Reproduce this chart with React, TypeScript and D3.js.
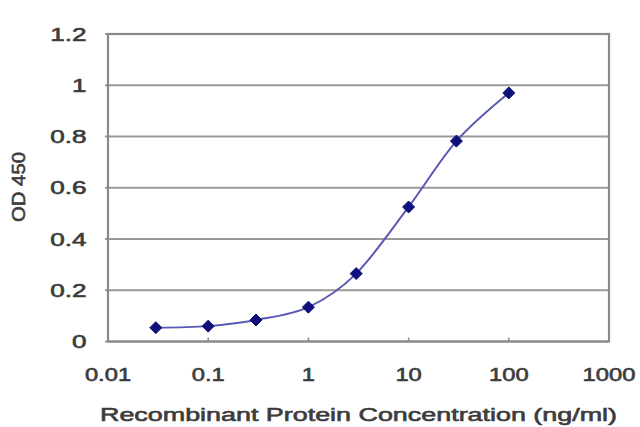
import React from "react";
import * as d3 from "d3";

const concentrations = [0.03, 0.1, 0.3, 1, 3, 10, 30, 100];
const odValues = [0.054, 0.06, 0.084, 0.134, 0.265, 0.525, 0.782, 0.97];
const xTicks = [0.01, 0.1, 1, 10, 100, 1000];
const xTickLabels = ["0.01", "0.1", "1", "10", "100", "1000"];
const yTicks = [0, 0.2, 0.4, 0.6, 0.8, 1, 1.2];
const yTickLabels = ["0", "0.2", "0.4", "0.6", "0.8", "1", "1.2"];
const xTitle = "Recombinant Protein Concentration (ng/ml)";
const yTitle = "OD 450";

const W = 640;
const H = 427;
const left = 108;
const right = 609;
const top = 34;
const bottom = 341.5;

export default function App() {
  const x = d3.scaleLog().domain([0.01, 1000]).range([left, right]);
  const y = d3.scaleLinear().domain([0, 1.2]).range([bottom, top]);
  const pts: [number, number][] = concentrations.map((c, i) => [x(c), y(odValues[i])]);
  const line = d3.line().curve(d3.curveCardinal.tension(0))(pts) || "";
  const textColor = "#3c3c3c";
  const font = "Liberation Sans, Arial, sans-serif";
  const ds = 6;
  const thick = { stroke: textColor, strokeWidth: 0.6 } as const;
  return (
    <svg
      width={W}
      height={H}
      style={{ position: "absolute", left: 0, top: 0, background: "#fff" }}
      fontFamily={font}
    >
      <rect x={0} y={0} width={W} height={H} fill="#fff" />
      {yTicks.map((t) => (
        <line
          key={"g" + t}
          x1={left - 3}
          x2={right}
          y1={y(t)}
          y2={y(t)}
          stroke="#9a9a9a"
          strokeWidth={2}
        />
      ))}
      <rect
        x={left}
        y={top}
        width={right - left}
        height={bottom - top}
        fill="none"
        stroke="#8a8a8a"
        strokeWidth={2.2}
      />
      {xTicks.map((t) => (
        <line
          key={"xt" + t}
          x1={x(t)}
          x2={x(t)}
          y1={bottom}
          y2={bottom - 4}
          stroke="#8a8a8a"
          strokeWidth={1.5}
        />
      ))}
      {yTicks.map((t, i) => (
        <text
          key={"yl" + t}
          transform={`translate(86.5,${y(t) + 6.5}) scale(1.45,1)`}
          textAnchor="end"
          fontSize={18}
          fill={textColor}
          {...thick}
        >
          {yTickLabels[i]}
        </text>
      ))}
      {xTicks.map((t, i) => (
        <text
          key={"xl" + t}
          transform={`translate(${x(t)},381) scale(1.32,1)`}
          textAnchor="middle"
          fontSize={18}
          fill={textColor}
          {...thick}
        >
          {xTickLabels[i]}
        </text>
      ))}
      <text
        x={358.5}
        y={421}
        textAnchor="middle"
        fontSize={18}
        fill={textColor}
        textLength={517}
        lengthAdjust="spacingAndGlyphs"
        {...thick}
      >
        {xTitle}
      </text>
      <text
        transform={`translate(25,187) rotate(-90)`}
        textAnchor="middle"
        fontSize={18}
        fill={textColor}
        textLength={70}
        lengthAdjust="spacingAndGlyphs"
        {...thick}
      >
        {yTitle}
      </text>
      <path d={line} fill="none" stroke="#5a5ab4" strokeWidth={2} />
      {pts.map(([px, py], i) => (
        <path
          key={"m" + i}
          d={`M${px},${py - ds}L${px + ds},${py}L${px},${py + ds}L${px - ds},${py}Z`}
          fill="#10107a"
          stroke="#10107a"
          strokeWidth={1}
          strokeLinejoin="round"
        />
      ))}
    </svg>
  );
}
